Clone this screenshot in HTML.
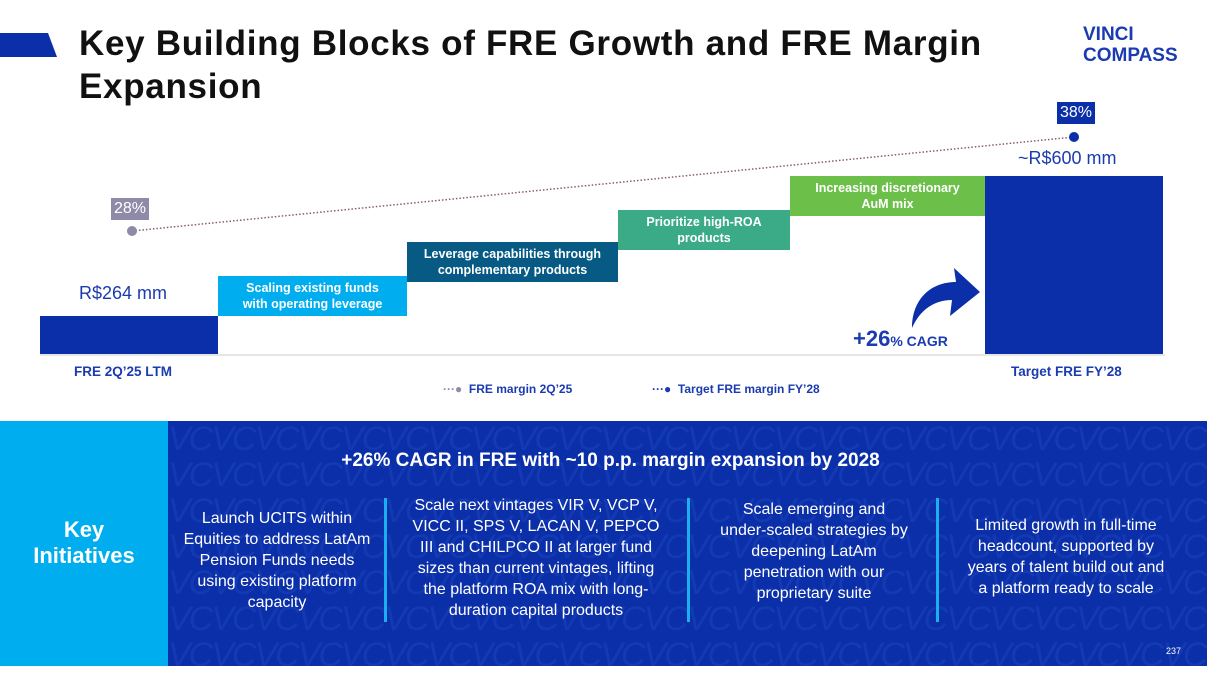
<!DOCTYPE html>
<html><head><meta charset="utf-8"><style>
body{margin:0;width:1207px;height:679px;overflow:hidden;background:#fff;font-family:"Liberation Sans",sans-serif;position:relative}
.abs{position:absolute}
.box{position:absolute;color:#fff;font-weight:bold;font-size:12.5px;text-align:center;display:flex;align-items:center;justify-content:center;line-height:16px}
.col{position:absolute;color:#fff;font-size:16px;text-align:center;line-height:21px;display:flex;align-items:center;justify-content:center;white-space:nowrap}
.div{position:absolute;width:3px;background:#1ab0ef;top:498px;height:124px}
</style></head><body>
<div class="abs" style="left:0;top:33px;width:57px;height:24px;background:#0a2fa8;clip-path:polygon(0 0,48px 0,57px 24px,0 24px)"></div>
<div class="abs" style="left:79px;top:22px;font-size:35px;letter-spacing:0.7px;font-weight:bold;line-height:43px;color:#111">Key Building Blocks of FRE Growth and FRE Margin<br>Expansion</div>
<div class="abs" style="left:1083px;top:24px;font-size:19px;font-weight:bold;color:#1b3bb0;line-height:21px">VINCI<br>COMPASS</div>

<svg class="abs" style="left:0;top:0" width="1207" height="420" id="chart"></svg>
<div id="labels"></div>

<div class="abs" style="left:0;top:421px;width:168px;height:245px;background:#00aeef"></div>
<div class="abs" style="left:0;top:517px;width:168px;text-align:center;color:#fff;font-weight:bold;font-size:22px;line-height:26px">Key<br>Initiatives</div>
<div class="abs" style="left:168px;top:421px;width:1039px;height:245px;background:#0a2fa8;overflow:hidden">
<div style="color:rgba(60,100,220,0.22);font-size:34px;line-height:36px;white-space:nowrap;letter-spacing:-2px;font-style:italic" id="pat"></div>
</div>
<div class="abs" style="left:168px;top:450px;width:885px;text-align:center;color:#fff;font-weight:bold;font-size:19px">+26% CAGR in FRE with ~10 p.p. margin expansion by 2028</div>
<div class="col" style="left:172px;top:498px;width:210px;height:124px">Launch UCITS within<br>Equities to address LatAm<br>Pension Funds needs<br>using existing platform<br>capacity</div>
<div class="div" style="left:384px"></div>
<div class="col" style="left:390px;top:490px;width:292px;height:136px">Scale next vintages VIR V, VCP V,<br>VICC II, SPS V, LACAN V, PEPCO<br>III and CHILPCO II at larger fund<br>sizes than current vintages, lifting<br>the platform ROA mix with long-<br>duration capital products</div>
<div class="div" style="left:687px"></div>
<div class="col" style="left:692px;top:496px;width:244px;height:110px">Scale emerging and<br>under-scaled strategies by<br>deepening LatAm<br>penetration with our<br>proprietary suite</div>
<div class="div" style="left:936px"></div>
<div class="col" style="left:940px;top:512px;width:252px;height:90px">Limited growth in full-time<br>headcount, supported by<br>years of talent build out and<br>a platform ready to scale</div>
<div class="abs" style="left:1166px;top:646px;color:#fff;font-size:9px">237</div>

<script>
const steps=["Scaling existing funds<br>with operating leverage","Leverage capabilities through<br>complementary products","Prioritize high-ROA<br>products","Increasing discretionary<br>AuM mix"];
const startVal=264;
const endVal=600;
const increments=[96,82,76,82];
const margins=[28,38];
const marginLabels=["28%","38%"];
const stepColors=["#00aeef","#075a84","#3aab86","#6cc04a"];

const base=354, k=0.4167, vmin=172.8;
const y=v=>base-(v-vmin)*k;
const my=m=>231-(m-28)*9.4;
const svg=document.getElementById('chart');
const NS="http://www.w3.org/2000/svg";
function mk(t,a){const e=document.createElementNS(NS,t);for(const n in a)e.setAttribute(n,a[n]);svg.appendChild(e);return e;}
let r=mk('rect',{x:40,y:y(startVal),width:178,height:base-y(startVal),fill:"#0a2fa8"});


r=mk('rect',{x:985,y:y(endVal),width:178,height:base-y(endVal),fill:"#0a2fa8"});


let l=mk('line',{x1:40,x2:1165,y1:355,y2:355,stroke:"#ddd","stroke-width":1.5});


const xs=[218,407,618,790,985];
let cum=startVal;
const lab=document.getElementById('labels');
increments.forEach((d,i)=>{cum+=d;const d2=document.createElement('div');d2.className='box';
d2.style.left=xs[i]+'px';d2.style.width=(xs[i+1]-xs[i])+'px';d2.style.top=y(cum)+'px';d2.style.height='40px';d2.style.background=stepColors[i];d2.innerHTML=steps[i];


lab.appendChild(d2);});
const mx=[132,1074];
l=mk('line',{x1:mx[0],y1:my(margins[0]),x2:mx[1],y2:my(margins[1]),stroke:"#8a5a78","stroke-width":1.5,"stroke-dasharray":"1.5 2"});


let c=mk('circle',{cx:mx[0],cy:my(margins[0]),r:5,fill:"#8e8aa8"});


c=mk('circle',{cx:mx[1],cy:my(margins[1]),r:5,fill:"#0a2fa8"});


function lbl(html,name,css){const d=document.createElement('div');d.className='abs';d.style.cssText=css;d.innerHTML=html;


lab.appendChild(d);}
lbl(marginLabels[0],'margin-label-2q25',`left:111px;top:${my(margins[0])-33}px;background:#8e8aa8;color:#fff;font-size:16px;padding:2px 3px`);
lbl(marginLabels[1],'margin-label-fy28',`left:1057px;top:${my(margins[1])-35}px;background:#0a2fa8;color:#fff;font-size:16px;padding:2px 3px`);
lbl('R$'+startVal+' mm','value-label-start',`left:79px;top:${y(startVal)-33}px;color:#1b3bb0;font-size:18px`);
lbl('~R$'+endVal+' mm','value-label-end',`left:1018px;top:${y(endVal)-28}px;color:#1b3bb0;font-size:18px`);
lbl('FRE 2Q’25 LTM','x-label-start','left:74px;top:364px;color:#1b3bb0;font-size:13.5px;font-weight:bold');
lbl('Target FRE FY’28','x-label-end','left:1011px;top:364px;color:#1b3bb0;font-size:13.5px;font-weight:bold');
lbl('<span style="font-size:22px">+26</span>% CAGR','cagr-label','left:853px;top:326px;color:#1b3bb0;font-size:14px;font-weight:bold');
lbl('<span style="color:#8e8aa8">···●</span>&nbsp; FRE margin 2Q’25','legend-entry-2q25','left:443px;top:382px;color:#1b3bb0;font-size:12px;font-weight:bold');
lbl('<span>···●</span>&nbsp; Target FRE margin FY’28','legend-entry-fy28','left:652px;top:382px;color:#1b3bb0;font-size:12px;font-weight:bold');
let a=mk('path',{d:"M912 328 C912 300 930 282 956 282 L954 268 L980 292 L950 316 L952 300 C934 300 920 310 912 328 Z",fill:"#0a2fa8"});


let s='';for(let i=0;i<8;i++)s+='VCVCVCVCVCVCVCVCVCVCVCVCVCVCVCVCVCVCVCVCVCVCVCVCVCVC<br>';
document.getElementById('pat').innerHTML=s;
</script>
</body></html>
